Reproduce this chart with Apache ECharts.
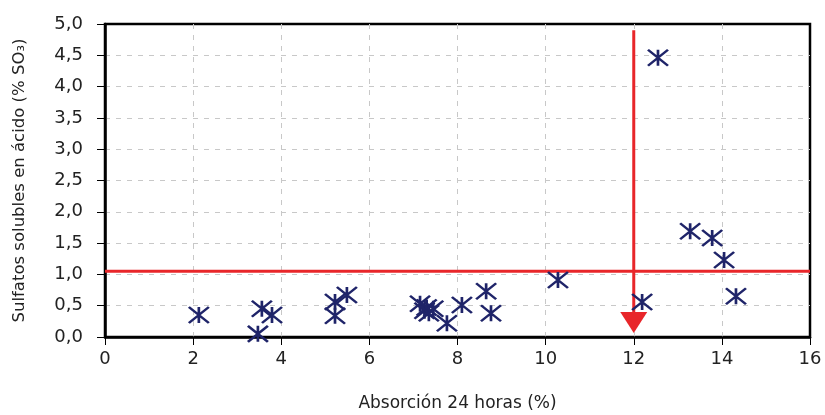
<!DOCTYPE html>
<html>
<head>
<meta charset="utf-8">
<script src="https://cdn.jsdelivr.net/npm/echarts@6/dist/echarts.min.js"></script>
<style>html,body{margin:0;padding:0;background:#fff;}#c{width:825px;height:415px;}</style>
</head>
<body>
<div id="c"></div>
<script>
var xValues = [2.13, 3.47, 3.56, 3.79, 5.22, 5.22, 5.49, 7.15, 7.25, 7.3, 7.35, 7.45, 7.76, 8.1, 8.65, 8.76, 10.28, 12.19, 12.55, 13.28, 13.78, 14.05, 14.32];
var yValues = [0.35, 0.05, 0.45, 0.35, 0.56, 0.34, 0.67, 0.53, 0.42, 0.47, 0.38, 0.45, 0.22, 0.51, 0.73, 0.38, 0.91, 0.56, 4.46, 1.69, 1.58, 1.23, 0.65];
var hLimit = 1.05;
var vLimit = 12;
var vLineTop = 4.9;
var arrowTipY = 0.23;
var xTicks = [0, 2, 4, 6, 8, 10, 12, 14, 16];
var yTicks = [0, 0.5, 1, 1.5, 2, 2.5, 3, 3.5, 4, 4.5, 5];

var points = xValues.map(function (x, i) { return [x, yValues[i]]; });
var font = 'DejaVu Sans';
var chart = echarts.init(document.getElementById('c'));
chart.setOption({
  animation: false,
  backgroundColor: '#fff',
  grid: { left: 105, right: 15, top: 24, bottom: 78, containLabel: false, outerBoundsMode: 'none',
    show: true, borderColor: '#000', borderWidth: 2.5, backgroundColor: 'transparent' },
  xAxis: {
    type: 'value', min: 0, max: 16, interval: 2,
    name: 'Absorción 24 horas (%)', nameLocation: 'middle', nameGap: 58,
    nameTextStyle: { fontFamily: font, fontSize: 17, color: '#222' },
    axisLine: { lineStyle: { color: '#000', width: 2.5 } },
    axisTick: { show: true, length: 8, lineStyle: { color: '#000', width: 1 } },
    axisLabel: { fontFamily: font, fontSize: 18, color: '#222', margin: 13,
      formatter: function (v) { return xTicks.indexOf(v) >= 0 ? String(v) : ''; } },
    splitLine: { show: true, showMinLine: false, showMaxLine: false, lineStyle: { color: '#c8c8c8', type: [5, 6], width: 1 } }
  },
  yAxis: {
    type: 'value', min: 0, max: 5, interval: 0.5,
    name: 'Sulfatos solubles en ácido (% SO₃)', nameLocation: 'middle', nameGap: 77,
    nameTextStyle: { fontFamily: font, fontSize: 16.5, color: '#222' },
    axisLine: { show: true, lineStyle: { color: '#000', width: 2.5 } },
    axisTick: { show: true, length: 8, lineStyle: { color: '#000', width: 1 } },
    axisLabel: { fontFamily: font, fontSize: 18, color: '#222', margin: 22,
      formatter: function (v) { return v.toFixed(1).replace('.', ','); } },
    splitLine: { show: true, showMinLine: false, showMaxLine: false, lineStyle: { color: '#c8c8c8', type: [5, 6], width: 1 } }
  },
  series: [
    {
      type: 'line', data: [[0, hLimit], [16, hLimit]], showSymbol: false, symbol: 'none',
      lineStyle: { color: '#e8262a', width: 3 }, z: 3, silent: true
    },
    {
      type: 'line', data: [[vLimit, vLineTop], [vLimit, arrowTipY + 0.1]], showSymbol: false, symbol: 'none',
      lineStyle: { color: '#e8262a', width: 3 }, z: 3, silent: true
    },
    {
      type: 'scatter', data: [[vLimit, arrowTipY]], symbol: 'triangle', symbolRotate: 180,
      symbolSize: [27, 21], itemStyle: { color: '#e8262a', opacity: 1 }, z: 3, silent: true
    },
    {
      type: 'scatter', data: points,
      symbol: 'path://M0,0L20,16M20,0L0,16M10,0L10,16',
      symbolSize: [20, 16],
      itemStyle: { color: 'none', borderColor: '#1f2469', borderWidth: 2.4, opacity: 1 },
      z: 4
    }
  ]
});
</script>
</body>
</html>
